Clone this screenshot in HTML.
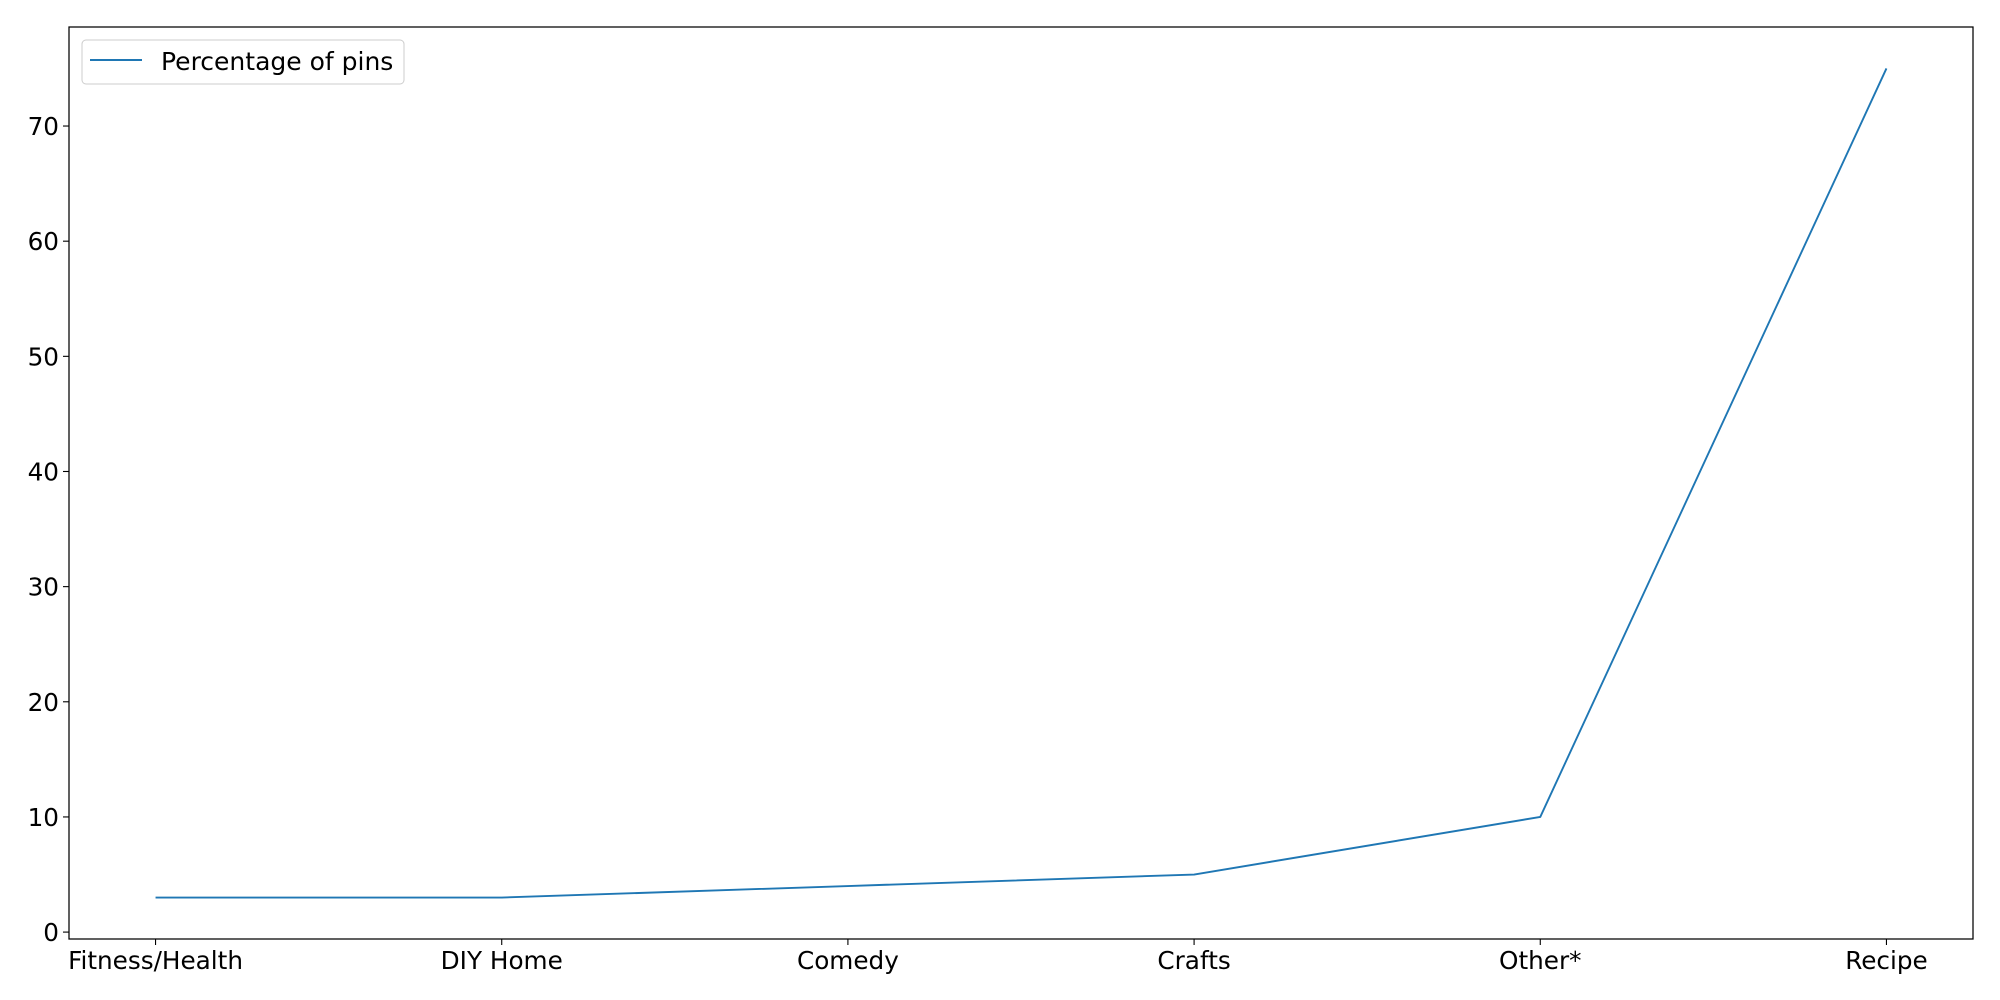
<!DOCTYPE html>
<html><head><meta charset="utf-8"><style>
html,body{margin:0;padding:0;background:#fff;}
svg{display:block;font-family:"DejaVu Sans","Liberation Sans",sans-serif;}
</style></head><body>
<svg id="chart" width="2000" height="1000"></svg>
<script>
const categories = ["Fitness/Health","DIY Home","Comedy","Crafts","Other*","Recipe"];
const percentages = [3,3,4,5,10,75];
const yTicks = [0,10,20,30,40,50,60,70];
const seriesName = "Percentage of pins";

const NS="http://www.w3.org/2000/svg";
const svg=document.getElementById('chart');
const L=69,R=1973,T=27,B=939;
const xMin=-0.25,xMax=categories.length-1+0.25;
const yMin=-0.6,yMax=78.6;
function xs(i){return L+(i-xMin)/(xMax-xMin)*(R-L);}
function ys(v){return B-(v-yMin)/(yMax-yMin)*(B-T);}
function mk(tag,attrs,parent){const e=document.createElementNS(NS,tag);for(const k in attrs)e.setAttribute(k,attrs[k]);(parent||svg).appendChild(e);return e;}

const frame=mk('rect',{x:L,y:T,width:R-L,height:B-T,fill:'none',stroke:'#000','stroke-width':1.25});



yTicks.forEach(v=>{
  const y=ys(v);
  const t=mk('line',{x1:L-6,x2:L,y1:y,y2:y,stroke:'#000','stroke-width':1.1});
  
  
  const tx=mk('text',{x:L-10,y:y+9,'text-anchor':'end','font-size':24.7,fill:'#000'});
  tx.textContent=v;
  
  
});
categories.forEach((c,i)=>{
  const x=xs(i);
  const t=mk('line',{x1:x,x2:x,y1:B,y2:B+6,stroke:'#000','stroke-width':1.1});
  
  
  const tx=mk('text',{x:x,y:B+30,'text-anchor':'middle','font-size':24.7,fill:'#000'});
  tx.textContent=c;
  
  
});

const pts=percentages.map((v,i)=>xs(i).toFixed(2)+','+ys(v).toFixed(2)).join(' ');
const line=mk('polyline',{points:pts,fill:'none',stroke:'#1f77b4','stroke-width':1.9,'stroke-linejoin':'round'});



const lg=mk('g',{});


mk('rect',{x:82,y:40,width:322,height:44,rx:4,fill:'#fff',stroke:'#ccc','stroke-width':1},lg);
mk('line',{x1:90,x2:142,y1:60,y2:60,stroke:'#1f77b4','stroke-width':1.9},lg);
const lt=mk('text',{x:161,y:70,'font-size':25,fill:'#000'},lg);
lt.textContent=seriesName;


</script>
</body></html>
